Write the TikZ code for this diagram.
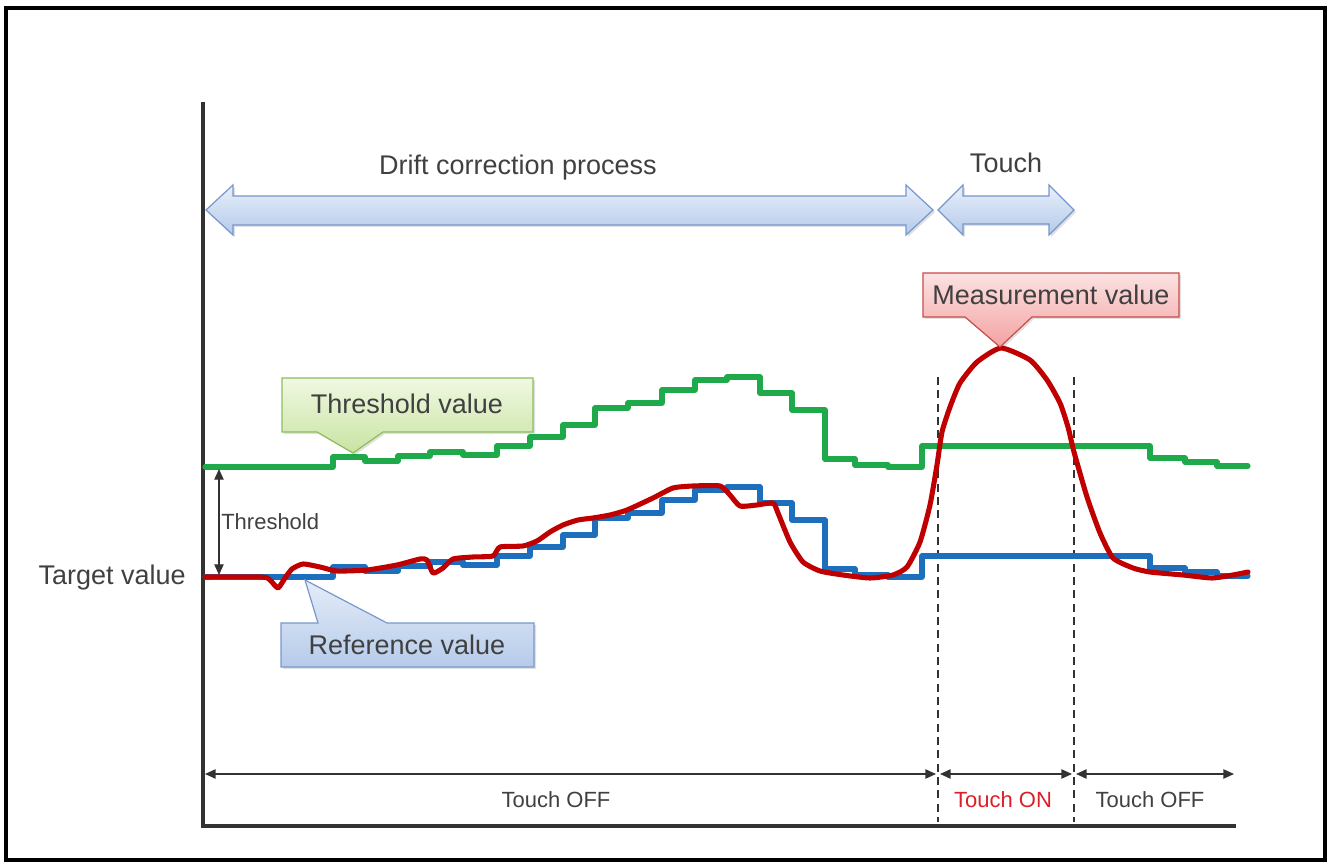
\documentclass[tikz,border=0pt]{standalone}
\usepackage{fontspec}
\setmainfont{Liberation Sans}
\usetikzlibrary{arrows.meta}

\definecolor{txtgray}{RGB}{64,64,64}
\definecolor{axisgray}{RGB}{50,50,50}
\definecolor{thrgreen}{RGB}{30,170,75}
\definecolor{refblue}{RGB}{30,110,190}
\definecolor{measred}{RGB}{192,0,0}
\definecolor{onred}{RGB}{220,30,40}
\definecolor{arrtop}{RGB}{232,240,251}
\definecolor{arrbot}{RGB}{180,201,233}
\definecolor{arredge}{RGB}{118,150,204}
\definecolor{gtop}{RGB}{240,248,226}
\definecolor{gbot}{RGB}{200,228,163}
\definecolor{gedge}{RGB}{140,190,90}
\definecolor{rtop}{RGB}{252,226,226}
\definecolor{rbot}{RGB}{243,162,162}
\definecolor{redge}{RGB}{200,75,75}
\definecolor{btop}{RGB}{228,236,248}
\definecolor{bbot}{RGB}{182,203,234}
\definecolor{bedge}{RGB}{120,152,204}

\begin{document}
\begin{tikzpicture}[x=0.75pt,y=-0.75pt,
  lbl/.style={text=txtgray,font=\fontsize{20.25}{24}\selectfont,inner sep=0pt},
  smalllbl/.style={text=txtgray,font=\fontsize{16.5}{20}\selectfont,inner sep=0pt},
  sigline/.style={line width=3.8pt,line join=round,line cap=round},
  spanarrow/.style={draw=axisgray,line width=1.1pt,
    {Triangle[length=8pt,width=7pt]}-{Triangle[length=8pt,width=7pt]}},
  bigarrow/.style={draw=arredge,line width=0.9pt,top color=arrtop,bottom color=arrbot,line join=miter},
  shadowpath/.style={fill=black,fill opacity=0.12,draw=none},
  guide/.style={draw=axisgray,line width=1.5pt,dash pattern=on 6pt off 4pt}]

\useasboundingbox (0,0) rectangle (1329,862);

% outer frame
\draw[black,line width=2.4pt] (6,8) rectangle (1325,860);

% axes
\coordinate (ytop) at (203,102);
\coordinate (origin) at (203,826);
\coordinate (xend) at (1236,826);
\draw[axisgray,line width=2.4pt] (ytop) -- (origin) -- (xend);

% block arrows: drift correction process and touch
\path[shadowpath,xshift=1.5pt,yshift=-1.5pt] (206,210) -- (233,185) -- (233,196) -- (906,196) -- (906,185) -- (933,210)
  -- (906,235) -- (906,225) -- (233,225) -- (233,235) -- cycle;
\path[bigarrow] (206,210) -- (233,185) -- (233,196) -- (906,196) -- (906,185) -- (933,210)
  -- (906,235) -- (906,225) -- (233,225) -- (233,235) -- cycle;
\path[shadowpath,xshift=1.5pt,yshift=-1.5pt] (938,210) -- (963,185) -- (963,196) -- (1049,196) -- (1049,185) -- (1074,210)
  -- (1049,235) -- (1049,224) -- (963,224) -- (963,235) -- cycle;
\path[bigarrow] (938,210) -- (963,185) -- (963,196) -- (1049,196) -- (1049,185) -- (1074,210)
  -- (1049,235) -- (1049,224) -- (963,224) -- (963,235) -- cycle;
\node[lbl] (drifttext) at (518,168) {Drift correction process};
\node[lbl] (touchtext) at (1006,163) {Touch};

% touch boundaries
\coordinate (d1t) at (938,377);
\coordinate (d1b) at (938,822);
\coordinate (d2t) at (1074,377);
\coordinate (d2b) at (1074,822);
\draw[guide] (d1t) -- (d1b);
\draw[guide] (d2t) -- (d2b);

% threshold value (green) and reference value (blue) step curves
\draw[sigline,thrgreen,yshift=82.5pt]
  (205,577) -| (333,567) -| (365,571) -| (398,566) -| (430,562) -| (463,565) -| (497,556)
  -| (530,547) -| (563,535) -| (595,518) -| (628,513) -| (662,500) -| (695,490) -| (727,487)
  -| (760,503) -| (792,520) -| (825,569) -| (855,575) -| (888,577) -| (922,556) -| (1150,568)
  -| (1185,572) -| (1217,576) -- (1248,576);
\draw[sigline,refblue]
  (205,577) -| (333,567) -| (365,571) -| (398,566) -| (430,562) -| (463,565) -| (497,556)
  -| (530,547) -| (563,535) -| (595,518) -| (628,513) -| (662,500) -| (695,490) -| (727,487)
  -| (760,503) -| (792,520) -| (825,569) -| (855,575) -| (888,577) -| (922,556) -| (1150,568)
  -| (1185,572) -| (1217,576) -- (1248,576);

% measurement value (red)
\draw[sigline,measred] plot[smooth,tension=0.35] coordinates {
  (205,577) (262,577) (270,580) (278,588) (285,578) (292,569) (303,564) (320,567) (337,571)
  (367,570) (397,565) (420,559) (427,560) (433,573) (443,568) (453,559) (473,557) (493,556)
  (500,547) (523,546) (537,541) (550,532) (563,525) (578,520) (593,518) (610,515) (627,510)
  (653,498) (673,488) (693,486) (720,486) (730,495) (740,506) (757,505) (773,503) (778,513)
  (790,542) (803,562) (820,571) (843,575) (870,578) (893,575) (907,567) (920,542) (930,505)
  (937,465) (942,432) (950,407) (960,383) (977,362) (1001,348) (1030,360) (1047,380)
  (1060,403) (1068,427) (1074,452) (1087,497) (1100,533) (1113,558) (1133,568) (1150,572)
  (1183,575) (1212,578) (1233,575) (1248,572)};

% callout: threshold value
\path[shadowpath,xshift=1.5pt,yshift=-1.5pt] (282,378) -- (533,378) -- (533,432) -- (383,432) -- (353,453) -- (317,432) -- (282,432) -- cycle;
\path[draw=gedge,line width=0.9pt,top color=gtop,bottom color=gbot]
  (282,378) -- (533,378) -- (533,432) -- (383,432) -- (353,453) -- (317,432) -- (282,432) -- cycle;
\node[lbl] (thrlabel) at (407,404) {Threshold value};

% callout: measurement value
\path[shadowpath,xshift=1.5pt,yshift=-1.5pt] (923,273) -- (1179,273) -- (1179,317) -- (1032,317) -- (1000,347) -- (965,317) -- (923,317) -- cycle;
\path[draw=redge,line width=0.9pt,top color=rtop,bottom color=rbot]
  (923,273) -- (1179,273) -- (1179,317) -- (1032,317) -- (1000,347) -- (965,317) -- (923,317) -- cycle;
\node[lbl] (measlabel) at (1051,295) {Measurement value};

% callout: reference value
\path[shadowpath,xshift=1.5pt,yshift=-1.5pt] (281,623) -- (318,623) -- (305,580) -- (387,623) -- (534,623) -- (534,667) -- (281,667) -- cycle;
\path[draw=bedge,line width=0.9pt,top color=btop,bottom color=bbot]
  (281,623) -- (318,623) -- (305,580) -- (387,623) -- (534,623) -- (534,667) -- (281,667) -- cycle;
\node[lbl] (reflabel) at (407,645) {Reference value};

% threshold span
\coordinate (thrtop) at (219,469);
\coordinate (thrbot) at (219,575);
\draw[spanarrow,line width=0.9pt] (thrtop) -- (thrbot);
\node[smalllbl,anchor=west] (thrgap) at (221,522) {Threshold};
\node[lbl,anchor=east] (target) at (186,578) {Target value};

% touch state spans
\coordinate (b0) at (205,774);
\coordinate (b1) at (936,774);
\coordinate (b2) at (940,774);
\coordinate (b3) at (1072,774);
\coordinate (b4) at (1076,774);
\coordinate (b5) at (1234,774);
\draw[spanarrow] (b0) -- (b1);
\draw[spanarrow] (b2) -- (b3);
\draw[spanarrow] (b4) -- (b5);
\node[smalllbl] (offA) at (556,800) {Touch OFF};
\node[smalllbl,text=onred] (onlabel) at (1003,800) {Touch ON};
\node[smalllbl] (offB) at (1150,800) {Touch OFF};

\end{tikzpicture}
\end{document}
